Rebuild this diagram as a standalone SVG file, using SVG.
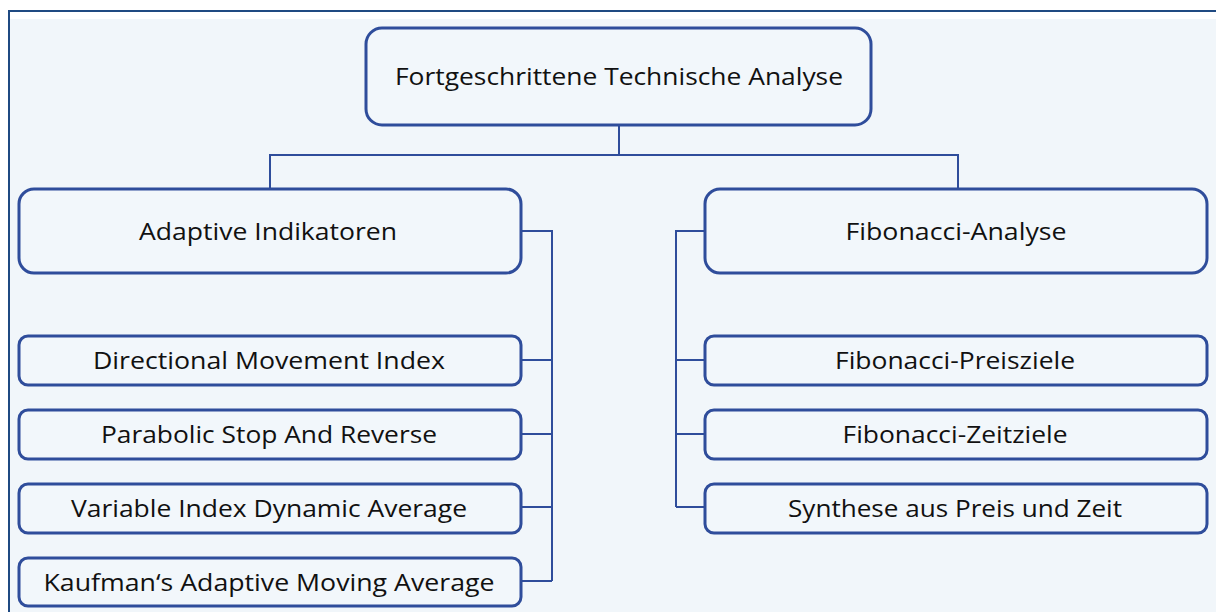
<svg xmlns="http://www.w3.org/2000/svg" width="1216" height="612" viewBox="0 0 1216 612">
<style>
.box{fill:#f2f7fb;stroke:#2f4d9b;stroke-width:3}
.con{fill:none;stroke:#2f4d9b;stroke-width:2}
.t{font-family:"Open Sans","Liberation Sans",sans-serif;font-size:24.5px;fill:#111;text-anchor:middle}
</style>
<rect x="0" y="0" width="1216" height="612" fill="#ffffff"/>
<rect x="10" y="19" width="1206" height="593" fill="#f1f6fa"/>
<path d="M9 612 V11 H1216" fill="none" stroke="#1f4a82" stroke-width="2"/>
<g id="connectors">
<path class="con" d="M619 126 V155 M270 188 V155 H958 V188"/>
<path class="con" d="M521 231 H552 V581 M521 360 H552 M521 434 H552 M521 507 H552 M521 581 H552"/>
<path class="con" d="M705 231 H676 V507 M676 360 H705 M676 434 H705 M676 507 H705"/>
</g>
<g id="root"><rect class="box" x="366" y="28" width="505" height="97" rx="16"/><text class="t" x="619" y="85" textLength="448" lengthAdjust="spacingAndGlyphs">Fortgeschrittene Technische Analyse</text></g>
<g id="adaptive"><rect class="box" x="19" y="189" width="502" height="84" rx="15"/><text class="t" x="268" y="240" textLength="258" lengthAdjust="spacingAndGlyphs">Adaptive Indikatoren</text></g>
<g id="fibonacci"><rect class="box" x="705" y="189" width="502" height="84" rx="15"/><text class="t" x="956" y="240" textLength="221" lengthAdjust="spacingAndGlyphs">Fibonacci-Analyse</text></g>
<g id="dmi"><rect class="box" x="19" y="336" width="502" height="49" rx="9"/><text class="t" x="269" y="369" textLength="352" lengthAdjust="spacingAndGlyphs">Directional Movement Index</text></g>
<g id="psar"><rect class="box" x="19" y="410" width="502" height="49" rx="9"/><text class="t" x="269" y="443" textLength="336" lengthAdjust="spacingAndGlyphs">Parabolic Stop And Reverse</text></g>
<g id="vidya"><rect class="box" x="19" y="484" width="502" height="49" rx="9"/><text class="t" x="269" y="517" textLength="396" lengthAdjust="spacingAndGlyphs">Variable Index Dynamic Average</text></g>
<g id="kama"><rect class="box" x="19" y="558" width="502" height="48" rx="9"/><text class="t" x="269" y="591" textLength="451" lengthAdjust="spacingAndGlyphs">Kaufman‘s Adaptive Moving Average</text></g>
<g id="preis"><rect class="box" x="705" y="336" width="502" height="49" rx="9"/><text class="t" x="955" y="369" textLength="240" lengthAdjust="spacingAndGlyphs">Fibonacci-Preisziele</text></g>
<g id="zeit"><rect class="box" x="705" y="410" width="502" height="49" rx="9"/><text class="t" x="955" y="443" textLength="225" lengthAdjust="spacingAndGlyphs">Fibonacci-Zeitziele</text></g>
<g id="synthese"><rect class="box" x="705" y="484" width="502" height="49" rx="9"/><text class="t" x="955" y="517" textLength="334" lengthAdjust="spacingAndGlyphs">Synthese aus Preis und Zeit</text></g>
</svg>
